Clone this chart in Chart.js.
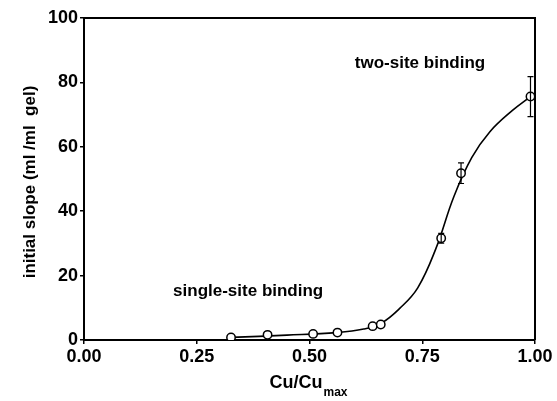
<!DOCTYPE html>
<html>
<head>
<meta charset="utf-8">
<script src="https://cdn.jsdelivr.net/npm/chart.js@4"></script>
<style>
  html, body { margin: 0; padding: 0; background: #fff; }
  #wrap { width: 557px; height: 401px; }
</style>
</head>
<body>
<div id="wrap"><canvas id="myChart" width="557" height="401"></canvas></div>
<script>
// measured points
const cuRatio = [0.326, 0.407, 0.508, 0.562, 0.640, 0.658, 0.792, 0.836, 0.990]
const slope   = [0.8,   1.6,   1.9,   2.3,   4.3,   4.8,   31.6,  51.8,  75.6]
const slopeErr = [0,    0,     0,     0,     0,     0,     1.5,   3.2,   6.2]

// fitted curve
const curveX = [0.326, 0.45, 0.56, 0.62, 0.66, 0.70, 0.74, 0.78, 0.82, 0.86, 0.90, 0.95, 0.99]
const curveY = [0.8,   1.5,  2.3,  3.4,  5.3,  9.8,  16.2, 28.3, 44.5, 56.7, 64.7, 71.3, 75.6]

const xTicks = [0, 0.25, 0.5, 0.75, 1]
const yTicks = [0, 20, 40, 60, 80, 100]

const labels = [
  { text: 'two-site binding', x: 0.745, y: 86 },
  { text: 'single-site binding', x: 0.364, y: 15 }
]

const FONT = '"Liberation Sans", Arial, Helvetica, sans-serif'

const extras = {
  id: 'extras',
  afterDatasetsDraw(chart) {
    const { ctx, chartArea, scales } = chart
    const xs = scales.x, ys = scales.y
    ctx.save()
    // frame top and right
    ctx.strokeStyle = '#000'
    ctx.lineWidth = 2
    ctx.beginPath()
    ctx.moveTo(chartArea.left, chartArea.top)
    ctx.lineTo(chartArea.right, chartArea.top)
    ctx.lineTo(chartArea.right, chartArea.bottom)
    ctx.stroke()

    // error bars
    ctx.lineWidth = 1.2
    cuRatio.forEach((cx, i) => {
      const e = slopeErr[i]
      if (!e) return
      const px = xs.getPixelForValue(cx)
      const top = ys.getPixelForValue(slope[i] + e)
      const bot = ys.getPixelForValue(slope[i] - e)
      ctx.beginPath()
      ctx.moveTo(px, top); ctx.lineTo(px, bot)
      ctx.moveTo(px - 3, top); ctx.lineTo(px + 3, top)
      ctx.moveTo(px - 3, bot); ctx.lineTo(px + 3, bot)
      ctx.stroke()
    })

    // annotations
    ctx.fillStyle = '#000'
    ctx.font = 'bold 17px ' + FONT
    ctx.textAlign = 'center'
    ctx.textBaseline = 'middle'
    labels.forEach(l => {
      ctx.fillText(l.text, xs.getPixelForValue(l.x), ys.getPixelForValue(l.y))
    })

    // axis titles
    ctx.font = 'bold 17px ' + FONT
    ctx.save()
    ctx.translate(30, 182)
    ctx.rotate(-Math.PI / 2)
    ctx.fillText('initial slope (ml /ml  gel)', 0, 0)
    ctx.restore()

    ctx.font = 'bold 18px ' + FONT
    ctx.textAlign = 'left'
    const main = 'Cu/Cu'
    const w = ctx.measureText(main).width
    const x0 = 296 - w / 2
    ctx.fillText(main, x0, 383)
    ctx.font = 'bold 12px ' + FONT
    ctx.fillText('max', x0 + w + 1, 393)
    ctx.restore()
  }
}

const find = document.getElementById('myChart')
let myChart = new Chart(find, {
  type: 'scatter',
  data: {
    datasets: [
      {
        label: 'points',
        data: cuRatio.map((x, i) => ({ x: x, y: slope[i] })),
        showLine: false,
        pointRadius: 4.2,
        pointBackgroundColor: '#fff',
        pointBorderColor: '#000',
        pointBorderWidth: 1.5,
        order: 0
      },
      {
        label: 'fit',
        data: curveX.map((x, i) => ({ x: x, y: curveY[i] })),
        showLine: true,
        borderColor: '#000',
        borderWidth: 1.6,
        pointRadius: 0,
        tension: 0.4,
        order: 1
      }
    ]
  },
  options: {
    responsive: false,
    animation: false,
    layout: { padding: { left: 0, top: 18, right: 22, bottom: 0 } },
    plugins: { legend: { display: false }, tooltip: { enabled: false } },
    scales: {
      x: {
        type: 'linear',
        min: 0, max: 1,
        afterBuildTicks: s => { s.ticks = xTicks.map(v => ({ value: v })) },
        afterFit: s => { s.height = 61 },
        ticks: {
          color: '#000',
          font: { family: FONT, size: 18, weight: 'bold' },
          padding: 2,
          maxRotation: 0,
          callback: v => v.toFixed(2)
        },
        grid: { drawOnChartArea: false, tickLength: 4, color: '#000', lineWidth: 1.5 },
        border: { display: true, color: '#000', width: 2 }
      },
      y: {
        min: 0, max: 100,
        afterBuildTicks: s => { s.ticks = yTicks.map(v => ({ value: v })) },
        afterFit: s => { s.width = 84 },
        ticks: {
          color: '#000',
          font: { family: FONT, size: 18, weight: 'bold' },
          padding: 2
        },
        grid: { drawOnChartArea: false, tickLength: 4, color: '#000', lineWidth: 1.5 },
        border: { display: true, color: '#000', width: 2 }
      }
    }
  },
  plugins: [extras]
});
</script>
</body>
</html>
